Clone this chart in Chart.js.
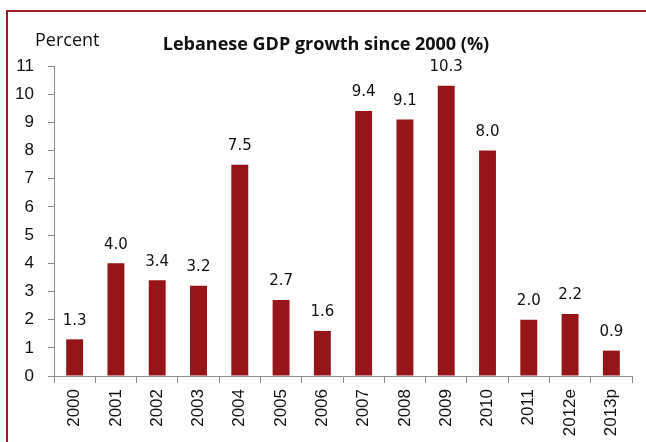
<!DOCTYPE html>
<html>
<head>
<meta charset="utf-8">
<script src="https://cdn.jsdelivr.net/npm/chart.js@4/dist/chart.umd.min.js"></script>
<style>
  html, body { margin: 0; padding: 0; background: #fff; }
  #wrap { position: relative; width: 646px; height: 442px; overflow: hidden; }
  #frame {
    position: absolute; left: 6px; top: 10px; right: -10px; bottom: -10px;
    border-top: 2px solid #9b1c22; border-left: 2px solid #9b1c22;
  }
  canvas { position: absolute; left: 0; top: 0; }
</style>
</head>
<body>
<div id="wrap">
  <div id="frame"></div>
  <canvas id="gdpChart" width="646" height="442"></canvas>
</div>
<script>
const years = ['2000', '2001', '2002', '2003', '2004', '2005', '2006', '2007', '2008', '2009', '2010', '2011', '2012e', '2013p'];
const growth = [1.3, 4.0, 3.4, 3.2, 7.5, 2.7, 1.6, 9.4, 9.1, 10.3, 8.0, 2.0, 2.2, 0.9];

const barColor = '#951519';
const axisColor = '#8c8c8c';

// value labels above each bar + the two header texts
const annotate = {
    id: 'annotate',
    afterDatasetsDraw(chart) {
        const ctx = chart.ctx;
        const meta = chart.getDatasetMeta(0);
        ctx.save();
        ctx.fillStyle = '#111';
        ctx.textAlign = 'center';
        ctx.textBaseline = 'bottom';
        ctx.font = '15px "DejaVu Sans", sans-serif';
        meta.data.forEach((bar, i) => {
            ctx.fillText(growth[i].toFixed(1), bar.x, bar.y - 11);
        });

        ctx.font = 'bold 18px "Open Sans", sans-serif';
        ctx.fillText('Lebanese GDP growth since 2000 (%)', 326, 54);

        ctx.textAlign = 'left';
        ctx.font = '18px "Open Sans", sans-serif';
        ctx.fillText('Percent', 35, 50);
        ctx.restore();
    }
};

new Chart(document.getElementById('gdpChart').getContext('2d'), {
    type: 'bar',
    data: {
        labels: years,
        datasets: [{
            data: growth,
            backgroundColor: barColor,
            borderWidth: 0,
            categoryPercentage: 0.82,
            barPercentage: 0.5
        }]
    },
    options: {
        responsive: false,
        animation: false,
        layout: { padding: { left: 10, right: 14, top: 66, bottom: 0 } },
        plugins: {
            legend: { display: false },
            tooltip: { enabled: false }
        },
        scales: {
            x: {
                grid: {
                    offset: true,
                    drawOnChartArea: false,
                    tickLength: 7,
                    color: axisColor
                },
                border: { color: axisColor, width: 1 },
                ticks: {
                    color: '#111',
                    font: { family: 'Liberation Sans', size: 17 },
                    minRotation: 90,
                    maxRotation: 90,
                    padding: 6
                },
                afterFit(scale) { scale.height = 66; }
            },
            y: {
                min: 0,
                max: 11,
                ticks: {
                    stepSize: 1,
                    color: '#111',
                    font: { family: 'Liberation Sans', size: 17 },
                    padding: 14
                },
                grid: {
                    drawOnChartArea: false,
                    tickLength: 6,
                    color: axisColor
                },
                border: { color: axisColor, width: 1 },
                afterFit(scale) { scale.width = 44; }
            }
        }
    },
    plugins: [annotate]
});
</script>
</body>
</html>
